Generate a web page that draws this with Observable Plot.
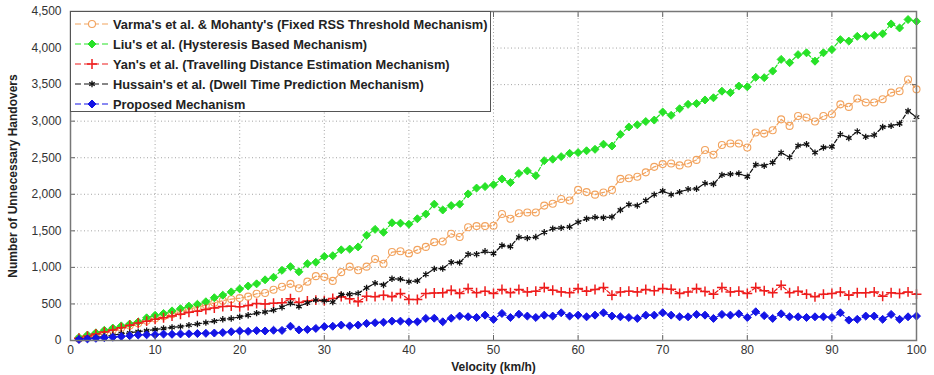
<!DOCTYPE html>
<html>
<head>
<meta charset="utf-8">
<script src="https://cdn.jsdelivr.net/npm/d3@7"></script>
<script src="https://cdn.jsdelivr.net/npm/@observablehq/plot@0.6"></script>
<style>
  html, body { margin: 0; padding: 0; background: #fff; }
  #wrap { position: relative; width: 934px; height: 375px; }
  g[aria-label="y-axis label"] text, g[aria-label="x-axis label"] text { font-weight: bold; fill: #222; }
  #legend { position: absolute; left: 70px; top: 11px; width: 421px; height: 101px; border: 1px solid #555;
    background: #fff; font: bold 12.8px "Liberation Sans", Arial, sans-serif; color: #222; box-sizing: border-box; padding-top: 2px; }
  #legend .row { height: 20px; display: flex; align-items: center; }
  #legend svg { flex: none; }
</style>
</head>
<body>
<div id="wrap"></div>
<script>
// ---- data ----
const velocity = d3.range(1, 101);
const seriesNames = [
  "Varma's et al. & Mohanty's (Fixed RSS Threshold Mechanism)",
  "Liu's et al. (Hysteresis Based Mechanism)",
  "Yan's et al. (Travelling Distance Estimation Mechanism)",
  "Hussain's et al. (Dwell Time Prediction Mechanism)",
  "Proposed Mechanism"
];
const varma = [25,55,85,115,145,175,205,235,270,300,330,360,395,425,455,485,515,545,565,580,
  600,640,650,695,735,775,715,805,880,870,815,935,1010,960,1010,1115,1050,1210,1220,1190,
  1240,1280,1345,1355,1460,1415,1550,1565,1565,1570,1730,1665,1740,1750,1750,1845,1870,1935,1915,2060,
  2030,1995,2025,2060,2210,2220,2240,2300,2375,2413,2420,2395,2420,2470,2605,2540,2675,2695,2695,2640,
  2845,2830,2875,3025,2935,3070,3050,2995,3070,3095,3230,3195,3310,3255,3255,3300,3390,3410,3570,3435];
const liu = [40,75,105,140,170,200,225,255,310,345,370,405,435,470,495,530,585,620,665,705,
  745,775,830,865,960,1010,940,1050,1070,1150,1160,1240,1250,1280,1440,1520,1480,1610,1605,1590,
  1665,1730,1865,1785,1845,1865,2005,2085,2105,2130,2210,2160,2285,2320,2255,2460,2480,2515,2560,2570,
  2595,2615,2685,2660,2820,2920,2950,2995,3015,3125,3080,3170,3230,3240,3290,3320,3410,3390,3480,3470,
  3600,3595,3685,3845,3800,3910,3935,3820,3935,3980,4115,4095,4160,4160,4175,4195,4330,4275,4390,4365];
const yan = [30,60,90,115,145,175,210,240,265,290,310,335,360,385,400,425,445,465,470,460,
  480,505,500,510,515,570,520,540,552,545,575,600,570,530,605,600,620,600,643,562,
  560,643,650,652,688,643,711,652,675,643,697,652,697,665,675,724,688,665,652,711,
  675,697,724,620,665,675,665,697,680,711,700,643,665,711,670,634,724,665,675,643,
  724,680,652,756,652,675,634,597,634,643,665,620,652,652,665,606,652,643,665,634];
const hussain = [15,28,42,55,70,95,105,120,135,150,165,180,190,210,225,245,265,290,300,325,
  345,375,390,415,455,510,465,515,552,545,525,630,633,645,720,785,760,845,840,805,
  815,905,980,985,1070,1065,1180,1180,1220,1190,1300,1285,1415,1400,1415,1480,1530,1540,1555,1620,
  1665,1685,1680,1690,1785,1860,1845,1915,1995,2045,1995,2030,2070,2075,2150,2140,2265,2275,2285,2240,
  2405,2390,2435,2570,2505,2665,2685,2570,2640,2650,2820,2770,2860,2785,2810,2920,2935,2965,3140,3055];
const proposed = [15,22,30,38,45,55,65,75,78,80,88,85,90,92,95,98,102,108,120,130,
  125,135,130,140,138,195,145,150,165,190,195,211,200,211,234,243,250,265,265,256,
  256,302,305,256,305,334,325,315,347,289,370,315,360,334,315,347,334,379,334,347,
  324,347,379,334,324,315,302,347,347,379,347,324,324,357,347,302,357,347,365,315,
  393,340,302,365,324,324,315,324,324,315,379,279,290,334,334,290,357,290,324,334];
const xTicks = [0,10,20,30,40,50,60,70,80,90,100];
const yTicks = [0,500,1000,1500,2000,2500,3000,3500,4000,4500];

const seriesValues = [varma, liu, yan, hussain, proposed];
const styles = [
  {color: "#f2a35e", symbol: "circle", fill: "none", r: 3.5, sw: 1.1},
  {color: "#27e227", symbol: "diamond2", fill: "#27e227", r: 3.6, sw: 1},
  {color: "#ee1c1c", symbol: "plus", fill: "none", r: 3.3, sw: 1.5},
  {color: "#111111", symbol: "asterisk", fill: "none", r: 3, sw: 1.3},
  {color: "#1414e6", symbol: "diamond2", fill: "#1414e6", r: 3.6, sw: 1}
];
const tables = seriesValues.map((vals, i) =>
  vals.map((n, j) => ({series: seriesNames[i], v: velocity[j], n})));

const marks = [
  Plot.gridX(xTicks, {stroke: "#9a9a9a", strokeOpacity: 0.9, strokeDasharray: "1,2.5"}),
  Plot.gridY(yTicks, {stroke: "#9a9a9a", strokeOpacity: 0.9, strokeDasharray: "1,2.5"})
];
tables.forEach((t, i) => {
  const s = styles[i];
  marks.push(Plot.line(t, {x: "v", y: "n", stroke: s.color, strokeWidth: 1.2, strokeDasharray: "4,2"}));
  marks.push(Plot.dot(t, {x: "v", y: "n", symbol: () => s.symbol, r: s.r, stroke: s.color, fill: s.fill, strokeWidth: s.sw}));
});
marks.push(
  Plot.axisX(xTicks, {tickSize: 0, tickPadding: 5, label: "Velocity (km/h)", labelAnchor: "center", labelArrow: "none", labelOffset: 30}),
  Plot.axisX(xTicks, {tickSize: -5, tickFormat: () => "", label: null, stroke: "#666"}),
  Plot.axisX(xTicks, {anchor: "top", tickSize: -5, tickFormat: () => "", label: null, stroke: "#666"}),
  Plot.axisY(yTicks, {tickSize: 0, tickPadding: 9, tickFormat: d3.format(","), label: "Number of Unnecessary Handovers", labelAnchor: "center", labelArrow: "none", labelOffset: 62}),
  Plot.axisY(yTicks, {tickSize: -5, tickFormat: () => "", label: null, stroke: "#666"}),
  Plot.axisY(yTicks, {anchor: "right", tickSize: -5, tickFormat: () => "", label: null, stroke: "#666"}),
  Plot.frame({stroke: "#777", strokeWidth: 1.5})
);

const chart = Plot.plot({
  width: 934,
  height: 375,
  marginLeft: 70,
  marginRight: 18,
  marginTop: 11,
  marginBottom: 35,
  x: {domain: [0, 100]},
  y: {domain: [0, 4500]},
  style: {fontFamily: "'Liberation Sans', Arial, sans-serif", fontSize: "12px", color: "#333", background: "#fff"},
  marks
});
const wrap = document.getElementById("wrap");
wrap.appendChild(chart);

// ---- legend ----
const legend = document.createElement("div");
legend.id = "legend";
seriesNames.forEach((name, i) => {
  const s = styles[i];
  const row = document.createElement("div");
  row.className = "row";
  const svg = d3.create("svg").attr("width", 42).attr("height", 20);
  svg.append("line").attr("x1", 4).attr("x2", 38).attr("y1", 10).attr("y2", 10)
    .attr("stroke", s.color).attr("stroke-width", 1.2).attr("stroke-dasharray", "6,3");
  const symMap = {circle: d3.symbolCircle, diamond2: d3.symbolDiamond2, plus: d3.symbolPlus, asterisk: d3.symbolAsterisk};
  svg.append("path").attr("transform", "translate(21,10)")
    .attr("d", d3.symbol(symMap[s.symbol], Math.PI * s.r * s.r)())
    .attr("stroke", s.color).attr("fill", s.fill === "none" ? "#fff" : s.fill).attr("stroke-width", s.sw);
  row.appendChild(svg.node());
  const span = document.createElement("span");
  span.textContent = name;
  row.appendChild(span);
  legend.appendChild(row);
});
wrap.appendChild(legend);
</script>
</body>
</html>
